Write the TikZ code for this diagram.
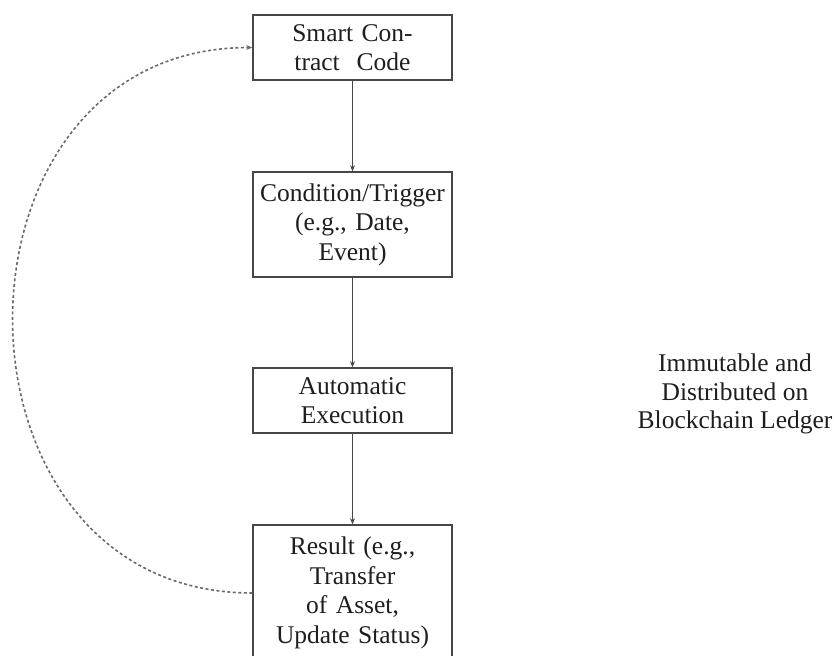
\documentclass[tikz,border=0pt]{standalone}
\usepackage{fontspec}
\setmainfont{Liberation Serif}
\usetikzlibrary{arrows.meta}
\definecolor{ink}{HTML}{1E1E1E}
\definecolor{edge}{HTML}{474747}
\definecolor{dash}{HTML}{6A6A6A}
\tikzset{
  stepbox/.style={draw=edge, line width=1.5pt, minimum width=199pt, text width=192pt,
    align=center, inner sep=0pt, text=ink, font=\fontsize{25.5}{29.5}\selectfont},
  flow/.style={draw=edge, line width=1.2pt, -{Stealth[length=6pt,width=5pt]}},
  loop/.style={draw=dash, line width=1.6pt, dash pattern=on 3pt off 2.5pt, -{Stealth[length=6pt,width=5pt]}},
}
\begin{document}
\begin{tikzpicture}[x=1pt,y=-1pt]
\useasboundingbox (0,0) rectangle (834,655);
\node[stepbox, minimum height=65pt] (code) at (352.5,47.5) {Smart Con-\\tract~~Code};
\node[stepbox, minimum height=105pt] (cond) at (352.5,224.5) {Condition/Trigger\\(e.g., Date,\\Event)};
\node[stepbox, minimum height=65pt] (exec) at (352.5,400.5) {Automatic\\Execution};
\node[stepbox, minimum height=136pt] (res) at (352.5,593) {Result (e.g.,\\Transfer\\of Asset,\\Update Status)};
\node[text=ink, align=center, inner sep=0pt, font=\fontsize{25.5}{28.5}\selectfont] (ledger) at (735,394) {Immutable and\\Distributed on\\Blockchain Ledger};
\draw[flow] (code) -- (cond);
\draw[flow] (cond) -- (exec);
\draw[flow] (exec) -- (res);
\draw[loop] (res.west) .. controls +(-319,0) and +(-319,0) .. (code.west);
\end{tikzpicture}
\end{document}
